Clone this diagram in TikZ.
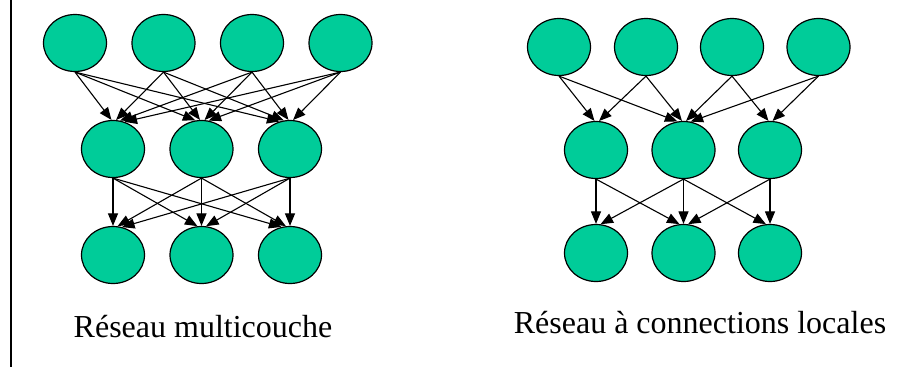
\documentclass[tikz,border=0pt]{standalone}
\usepackage{fontspec}
\setmainfont{Liberation Serif}
\usetikzlibrary{arrows.meta, positioning, shapes.geometric}
\definecolor{cellgreen}{RGB}{0,204,153}
% arrow from the bottom of #1 to the top of #2, tip leaning towards #1
\newcommand{\drawLink}[2]{\path (#1.south); \pgfgetlastxy{\srcx}{\srcy}
  \path (#2.center); \pgfgetlastxy{\tgtx}{\tgty}
  \pgfmathtruncatemacro{\tipangle}{90-0.1*(\srcx-\tgtx)}
  \draw (#1.south) -- (#2.\tipangle);}
\tikzset{->,>={Triangle[length=12.5pt,width=10pt]},
    neuron/.style={ellipse,draw,fill=cellgreen,line width=1.2pt,
        minimum width=63pt,minimum height=57pt,inner sep=0pt},
    caption/.style={anchor=base,font=\fontsize{32}{38}\selectfont},
    frame/.style={-,line width=1.5pt}}

\begin{document}
\begin{tikzpicture}
[x=1pt,y=-1pt,node distance=88.5pt,line width=1.1pt]
\useasboundingbox (0,0) rectangle (904,367);
\draw[frame] (11,0) -- (11,367);

% fully connected net
\node[neuron] (a1) at (75,43)    {};
\node[neuron] (a2) [right of = a1] {};
\node[neuron] (a3) [right of = a2] {};
\node[neuron] (a4) [right of = a3] {};
\node[neuron] (b1) at (113,149)  {};
\node[neuron] (b2) [right of = b1] {};
\node[neuron] (b3) [right of = b2] {};
\node[neuron] (c1) [node distance=106pt, below of = b1] {};
\node[neuron] (c2) [right of = c1] {};
\node[neuron] (c3) [right of = c2] {};
\foreach \i in {1,...,4}
  \foreach \j in {1,2,3}
    {\drawLink{a\i}{b\j}}
\foreach \i in {1,2,3}
  \foreach \j in {1,2,3}
    {\drawLink{b\i}{c\j}}
\node[caption] (capa) at (203,337) {Réseau multicouche};

% locally connected net
\node[neuron] (d1) at (559,47)   {};
\node[neuron] (d2) [node distance=87pt, right of = d1] {};
\node[neuron] (d3) [node distance=86pt, right of = d2] {};
\node[neuron] (d4) [node distance=86.5pt, right of = d3] {};
\node[neuron] (e1) at (596,150)  {};
\node[neuron] (e2) [node distance=87.5pt, right of = e1] {};
\node[neuron] (e3) [node distance=86.5pt, right of = e2] {};
\node[neuron] (f1) [node distance=103pt, below of = e1] {};
\node[neuron] (f2) [node distance=103pt, below of = e2] {};
\node[neuron] (f3) [node distance=103pt, below of = e3] {};
\drawLink{d1}{e1} \drawLink{d1}{e2}
\drawLink{d2}{e1} \drawLink{d2}{e2}
\drawLink{d3}{e2} \drawLink{d3}{e3}
\drawLink{d4}{e2} \drawLink{d4}{e3}
\drawLink{e1}{f1} \drawLink{e1}{f2}
\drawLink{e2}{f1} \drawLink{e2}{f2} \drawLink{e2}{f3}
\drawLink{e3}{f2} \drawLink{e3}{f3}
\node[caption] (capb) at (700,333) {Réseau à connections locales};
\end{tikzpicture}
\end{document}
